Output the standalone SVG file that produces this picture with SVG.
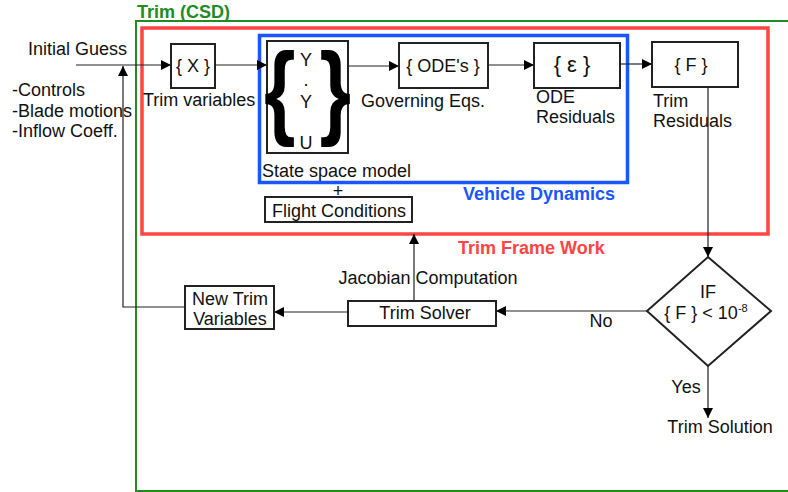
<svg xmlns="http://www.w3.org/2000/svg" width="788" height="492" viewBox="0 0 788 492">
<defs>
<marker id="ah" viewBox="0 0 10 10" refX="10" refY="5" markerWidth="10" markerHeight="10" markerUnits="userSpaceOnUse" orient="auto">
<path d="M0,0 L10,5 L0,10 z" fill="#000"/>
</marker>
<style>
text{font-family:"Liberation Sans",Arial,sans-serif;font-size:18px;fill:#111}
.box{fill:#fff;stroke:#222;stroke-width:2}
.ln{fill:none;stroke:#222;stroke-width:1.2}
.lbl{font-weight:bold}
.brace{font-size:104px;font-weight:bold;fill:#000}
</style>
</defs>
<rect width="788" height="492" fill="#fff"/>
<g id="frames">
<rect x="136" y="21" width="700" height="470" fill="none" stroke="#228b22" stroke-width="2"/>
<text x="137" y="18" class="lbl" style="fill:#228b22">Trim (CSD)</text>
<rect x="142" y="28" width="626" height="206" fill="none" stroke="#ff4444" stroke-width="3.5"/>
<text x="458" y="254" class="lbl" style="fill:#ff4444">Trim Frame Work</text>
<rect x="259.5" y="35.5" width="368" height="147" fill="none" stroke="#1a55ff" stroke-width="3.5"/>
<text x="463" y="200" class="lbl" style="fill:#1a55ff">Vehicle Dynamics</text>
</g>
<g id="connectors">
<path class="ln" d="M76,65 H171" marker-end="url(#ah)"/>
<path class="ln" d="M215,65 H267" marker-end="url(#ah)"/>
<path class="ln" d="M348,66 H399" marker-end="url(#ah)"/>
<path class="ln" d="M488,65 H534" marker-end="url(#ah)"/>
<path class="ln" d="M620,64 H652" marker-end="url(#ah)"/>
<path class="ln" d="M708,87 V257" marker-end="url(#ah)"/>
<path class="ln" d="M647,311 H496" marker-end="url(#ah)"/>
<path class="ln" d="M348,312 H274" marker-end="url(#ah)"/>
<path class="ln" d="M414,301 V234" marker-end="url(#ah)"/>
<path class="ln" d="M185,307 H123 V66" marker-end="url(#ah)"/>
<path class="ln" d="M708,366 V418" marker-end="url(#ah)"/>
</g>
<g id="inputs">
<text x="28" y="55">Initial Guess</text>
<text x="12" y="96">-Controls</text>
<text x="12" y="117">-Blade motions</text>
<text x="12" y="137">-Inflow Coeff.</text>
</g>
<g id="trim-x">
<rect class="box" x="171" y="44" width="44" height="44"/>
<text x="193" y="72" text-anchor="middle">{ X }</text>
<text x="143" y="106">Trim variables</text>
</g>
<g id="state-space">
<rect class="box" x="267" y="41" width="81" height="112"/>
<text class="brace" transform="translate(264,125) scale(0.78,1)" x="0" y="0">{</text>
<text class="brace" transform="translate(351,125) scale(0.78,1)" x="0" y="0" text-anchor="end">}</text>
<text x="306" y="66" text-anchor="middle">Y</text>
<text x="306" y="86" text-anchor="middle">.</text>
<text x="306" y="108" text-anchor="middle">Y</text>
<text x="306" y="149" text-anchor="middle">U</text>
<text x="262" y="177">State space model</text>
<text x="338" y="197" text-anchor="middle">+</text>
</g>
<g id="flight-conditions">
<rect class="box" x="265" y="197" width="147" height="25"/>
<text x="339" y="217" text-anchor="middle">Flight Conditions</text>
</g>
<g id="odes">
<rect class="box" x="399" y="43" width="89" height="45"/>
<text x="443" y="72" text-anchor="middle">{ ODE's }</text>
<text x="361" y="107">Governing Eqs.</text>
</g>
<g id="eps">
<rect class="box" x="534" y="43" width="86" height="45"/>
<text x="572" y="72" text-anchor="middle" style="font-size:22px">{ ε }</text>
<text x="536" y="103">ODE</text>
<text x="536" y="123">Residuals</text>
</g>
<g id="f">
<rect class="box" x="652" y="42" width="86" height="45"/>
<text x="691" y="71" text-anchor="middle">{ F }</text>
<text x="653" y="107">Trim</text>
<text x="653" y="127">Residuals</text>
</g>
<g id="decision">
<path d="M708,257 L771,311 L708,366 L647,311 z" fill="#fff" stroke="#222" stroke-width="2"/>
<text x="708" y="298" text-anchor="middle">IF</text>
<text x="706" y="319" text-anchor="middle">{ F } &lt; 10<tspan dy="-7" style="font-size:11px">-8</tspan></text>
<text x="601" y="327" text-anchor="middle">No</text>
<text x="686" y="393" text-anchor="middle">Yes</text>
<text x="720" y="433" text-anchor="middle">Trim Solution</text>
</g>
<g id="trim-solver">
<rect class="box" x="348" y="301" width="148" height="25"/>
<text x="425" y="319" text-anchor="middle">Trim Solver</text>
<text x="428" y="284" text-anchor="middle">Jacobian Computation</text>
</g>
<g id="new-trim">
<rect class="box" x="185" y="286" width="89" height="43"/>
<text x="230" y="305" text-anchor="middle">New Trim</text>
<text x="230" y="325" text-anchor="middle">Variables</text>
</g>
</svg>
